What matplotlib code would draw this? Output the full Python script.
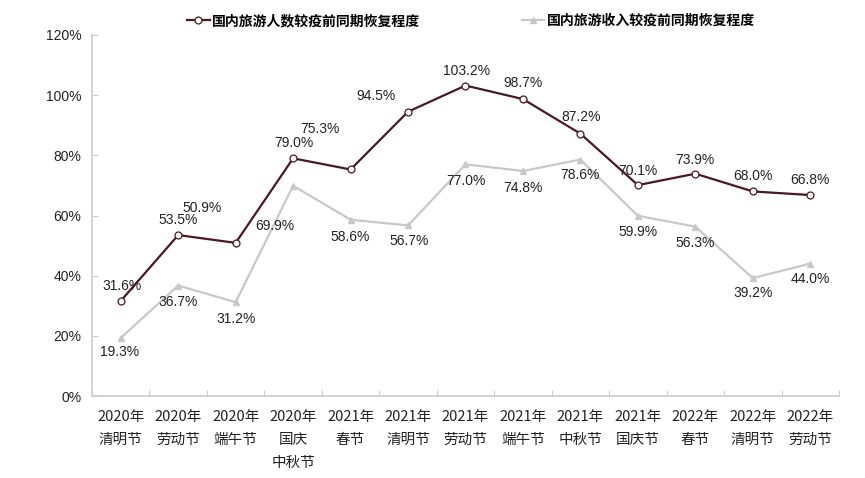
import matplotlib.pyplot as plt
import numpy as np

plt.rcParams['font.family'] = ['Liberation Sans', 'Noto Sans CJK SC', 'DejaVu Sans']

# festivals (x axis)
festivals = ['2020年\n清明节', '2020年\n劳动节', '2020年\n端午节', '2020年\n国庆\n中秋节',
             '2021年\n春节', '2021年\n清明节', '2021年\n劳动节', '2021年\n端午节',
             '2021年\n中秋节', '2021年\n国庆节', '2022年\n春节', '2022年\n清明节',
             '2022年\n劳动节']

# recovery vs. pre-epidemic, in %
trips = [31.6, 53.5, 50.9, 79.0, 75.3, 94.5, 103.2, 98.7, 87.2, 70.1, 73.9, 68.0, 66.8]
revenue = [19.3, 36.7, 31.2, 69.9, 58.6, 56.7, 77.0, 74.8, 78.6, 59.9, 56.3, 39.2, 44.0]

trips_name = '国内旅游人数较疫前同期恢复程度'
revenue_name = '国内旅游收入较疫前同期恢复程度'

# label offsets in pixels (dx, dy) as placed in the original
trips_off = [(1, 15), (0, 15), (-34, 35), (1, 15), (-31, 40), (-32, 16), (1, 15),
             (0, 16), (1, 17), (0, 14), (0, 14), (0, 15), (0, 15)]
revenue_off = [(-1, -14), (0, -16), (0, -17), (-18, -40), (0, -17), (1, -16), (0, -17),
               (0, -17), (0, -15), (0, -16), (0, -16), (0, -15), (0, -15)]

dark = '#4a1722'
gray = '#c8c8c8'

fig = plt.figure(figsize=(8.65, 4.78), dpi=100)
ax = fig.add_axes([92 / 865, 1 - 396 / 478, (839 - 92) / 865, (396 - 35) / 478])

x = np.arange(len(festivals))
ax.plot(x, trips, color=dark, lw=1.6, marker='o', ms=5, mfc='white', mec=dark, mew=0.9,
        label=trips_name, zorder=3)
ax.plot(x, revenue, color=gray, lw=1.6, marker='^', ms=4, mfc=gray, mec=gray,
        label=revenue_name, zorder=2)

for xi, v, (dx, dy) in zip(x, trips, trips_off):
    ax.annotate(f'{v:.1f}%', (xi, v), xytext=(dx, dy), textcoords='offset pixels',
                ha='center', va='center', fontsize=10, color='#222222')
for xi, v, (dx, dy) in zip(x, revenue, revenue_off):
    ax.annotate(f'{v:.1f}%', (xi, v), xytext=(dx, dy), textcoords='offset pixels',
                ha='center', va='center', fontsize=10, color='#222222')

ax.set_xlim(-0.5, len(festivals) - 0.5)
ax.set_ylim(0, 120)
ax.set_yticks(np.arange(0, 121, 20))
ax.set_yticklabels([f'{t}%' for t in range(0, 121, 20)], fontsize=10, color='#222222')
ax.tick_params(axis='y', direction='in', length=4, color='#cccccc', pad=7.5)

ax.set_xticks(np.arange(-0.5, len(festivals), 1))
ax.set_xticklabels([])
ax.set_xticks(x, minor=True)
ax.set_xticklabels(festivals, minor=True, fontsize=10.5, color='#222222',
                   family=['Noto Sans CJK SC'], linespacing=1.8, va='top')
ax.tick_params(axis='x', which='major', direction='in', length=4, color='#cccccc')
ax.tick_params(axis='x', which='minor', length=0, pad=10)

for s in ['top', 'right']:
    ax.spines[s].set_visible(False)
for s in ['left', 'bottom']:
    ax.spines[s].set_color('#cccccc')
    ax.spines[s].set_linewidth(1.2)

fig.legend(loc='center left', bbox_to_anchor=(187 / 865, 1 - 21 / 478), ncol=2,
           frameon=False, borderpad=0, borderaxespad=0, handlelength=1.65,
           handletextpad=0.15, columnspacing=7.3,
           prop={'family': 'Noto Sans CJK SC', 'weight': 'bold', 'size': 10})

fig.savefig('out.png', dpi=100, facecolor='white')
